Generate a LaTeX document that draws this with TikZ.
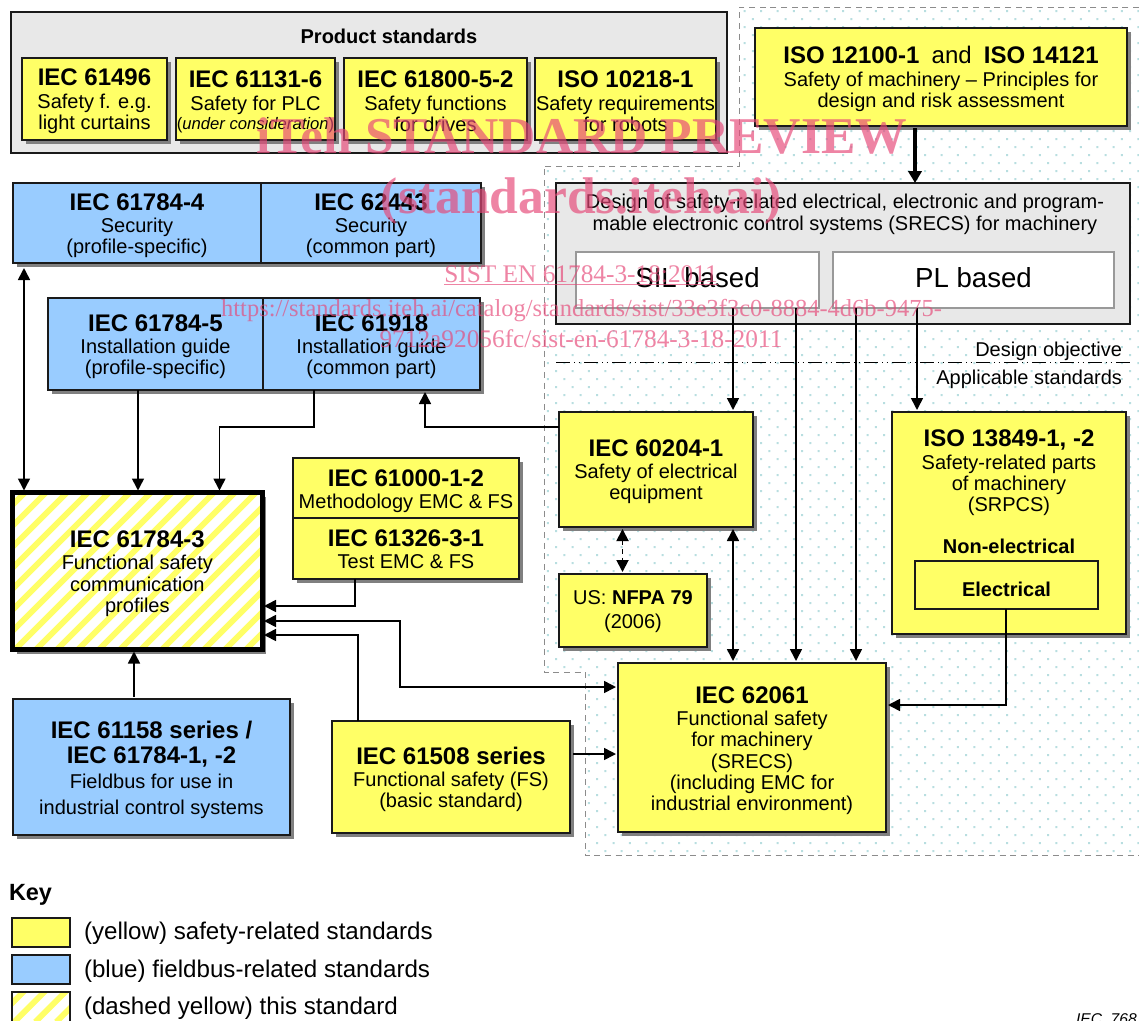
\documentclass[tikz,border=0pt]{standalone}
\usepackage{fontspec}
\setmainfont{Liberation Sans}
\newfontfamily\wmfont{Liberation Serif}
\usetikzlibrary{arrows.meta,shadows,calc}
\definecolor{boxyellow}{HTML}{FFFF66}
\definecolor{boxblue}{HTML}{99CCFF}
\definecolor{boxgrey}{HTML}{E8E8E8}
\definecolor{shgrey}{HTML}{808080}
\definecolor{linedark}{HTML}{1A1A1A}
\definecolor{dotcol}{HTML}{B8DEE0}
\definecolor{regioncol}{HTML}{8C8C8C}
\definecolor{wmcol}{HTML}{E64878}
\newcommand\BB[1]{{\fontsize{18}{16}\selectfont\bfseries #1}}
\newcommand\BS[1]{{\fontsize{15}{16}\selectfont\bfseries #1}}
\newcommand\gap{\\[0.7pt]}
% strut that lowers a centred text block by #1 px
\newcommand\sd[1]{\rule{0pt}{\dimexpr 13pt+#1pt*3/2\relax}}
\tikzset{
  base/.style={draw=linedark,line width=1.1pt,inner sep=0pt,outer sep=0pt,align=center,text=black,
     font=\fontsize{15}{16}\selectfont},
  shad/.style={drop shadow={shadow xshift=3pt,shadow yshift=-3pt,fill=shgrey,opacity=1}},
  yel/.style={base,shad,fill=boxyellow},
  blu/.style={base,shad,fill=boxblue},
  grey/.style={base,fill=boxgrey},
  plainbox/.style={base,fill=boxyellow},
  whitebox/.style={base,draw=black!40,fill=white},
  hatchpic/.style={path picture={
     \foreach \i in {-9,...,14}
       \draw[boxyellow,line width=4.4pt] ([shift={(2.3+21*\i,0)}]path picture bounding box.south west) -- ++(180,-180);}},
  hatch/.style={base,shad,fill=white,hatchpic,draw=black,line width=3.75pt},
  keyhatch/.style={base,fill=white,hatchpic},
  label/.style={inner sep=0pt,outer sep=0pt,text=black},
  arr/.style={draw=black,line width=1.2pt,-{Triangle[length=9pt,width=9pt]},shorten >=1.5pt},
  dbl/.style={draw=black,line width=1.2pt,{Triangle[length=9pt,width=9pt]}-{Triangle[length=9pt,width=9pt]},shorten >=1.5pt,shorten <=1.5pt},
  region/.style={draw=regioncol,line width=.7pt,dash pattern=on 4.5pt off 3.5pt},
  wm/.style={inner sep=0pt,outer sep=0pt,anchor=base,text=wmcol,text opacity=.67,font=\wmfont\fontsize{19}{20}\selectfont},
  wmbig/.style={wm,font=\wmfont\bfseries\fontsize{38.7}{40}\selectfont},
}
\newcommand\dbox[7][0]{%
  \pgfmathsetmacro\bw{(#5-#3)*0.75}\pgfmathsetmacro\bh{(#6-#4)*0.75}%
  \node[#2,minimum width=\bw pt,minimum height=\bh pt] (#1) at ({(#3+#5)/2},{(#4+#6)/2}) {#7};}
\begin{document}
\begin{tikzpicture}[x=0.75pt,y=-0.75pt]
\useasboundingbox (0,0) rectangle (1139,1021);
\clip (0,0) rectangle (1139,1021);
% dotted region
\begin{scope}
\clip (739,7) -- (1139,7) -- (1139,855) -- (585,855) -- (585,672) -- (544,672) -- (544,166) -- (739,166) -- cycle;
\fill[dotcol] \foreach \k in {0,...,53} \foreach \m in {0,...,37}
  { ({538.7+16.4*\m},{2+16*\k}) rectangle ++(2,2) };
\fill[dotcol] \foreach \k in {0,...,53} \foreach \m in {0,...,37}
  { ({530.5+16.4*\m},{10+16*\k}) rectangle ++(2,2) };
\end{scope}
\draw[region] (1139,7) -- (739,7) -- (739,166) -- (544,166) -- (544,672) -- (585,672) -- (585,855) -- (1139,855);

% product standards
\dbox[prod]{grey}{11}{12}{727}{153}{}
\node[label,font=\fontsize{15}{16}\selectfont\bfseries] (prodt) at (389,36) {Product standards};
\dbox[a61496]{yel}{22}{58}{167}{140}{\sd{2}\BB{IEC 61496}\gap Safety f. e.g.\\light curtains}
\dbox[a61131]{yel}{176}{58}{335}{140}{\sd{2.7}\BB{IEC 61131-6}\gap Safety for PLC\\[-1.5pt]{\fontsize{12.5}{14}\selectfont(\textit{under consideration})}}
\dbox[a61800]{yel}{344}{58}{527}{140}{\sd{2}\BB{IEC 61800-5-2}\gap Safety functions\\for drives}
\dbox[a10218]{yel}{535}{58}{716}{140}{\sd{2}\BB{ISO 10218-1}\gap Safety requirements\\for robots}

% ISO 12100 + design
\dbox[iso12100]{yel}{755}{28}{1127}{126}{\sd{2}\BB{ISO 12100-1}\,\, {\fontsize{18}{16}\selectfont and}\,\, \BB{ISO 14121}\gap Safety of machinery -- Principles for\\design and risk assessment}
\dbox[design]{grey}{556}{183}{1130}{324}{}
\node[label,align=center,font=\fontsize{15}{16.5}\selectfont] (designt) at (845,214) {Design of safety-related electrical, electronic and program-\\mable electronic control systems (SRECS) for machinery};
\dbox[sil]{whitebox}{576}{252}{819}{308}{\rule[-4.5pt]{0pt}{4.5pt}{\fontsize{20.7}{22}\selectfont SIL based}}
\dbox[pl]{whitebox}{833}{252}{1114}{308}{\rule[-4.5pt]{0pt}{4.5pt}{\fontsize{20.7}{22}\selectfont PL based}}

% dash-dot divider
\coordinate (divl) at (556,362);
\coordinate (divr) at (1130,362);
\draw[black,line width=.75pt,dash pattern=on 10.5pt off 3pt on 1.1pt off 2.3pt on 1.1pt off 3pt] (divl) -- (divr);
\node[label,anchor=east,font=\fontsize{15}{16}\selectfont] (dobj) at (1122,351) {Design objective};
\node[label,anchor=east,font=\fontsize{15}{16}\selectfont] (appl) at (1122,379) {Applicable standards};

% blue pairs
\dbox[sec1]{blu}{13}{183}{261}{263}{\sd{2.5}\BB{IEC 61784-4}\gap Security\\(profile-specific)}
\dbox[sec2]{blu}{261}{183}{481}{263}{\sd{2.5}\BB{IEC 62443}\gap Security\\(common part)}
\dbox[ins1]{blu}{48}{298}{263}{390}{\sd{2.5}\BB{IEC 61784-5}\gap Installation guide\\(profile-specific)}
\dbox[ins2]{blu}{263}{298}{480}{390}{\sd{2.5}\BB{IEC 61918}\gap Installation guide\\(common part)}

% main
\dbox[main]{hatch}{12.7}{492.5}{262}{649.5}{\sd{2.5}\BB{IEC 61784-3}\gap Functional safety\\communication\\profiles}
\dbox[emc1]{yel}{293}{458}{519}{518}{\sd{3}\BB{IEC 61000-1-2}\gap Methodology EMC \& FS}
\dbox[emc2]{yel}{293}{518}{519}{579}{\sd{0.5}\BB{IEC 61326-3-1}\gap Test EMC \& FS}
\dbox[fb]{blu}{13}{699}{290}{835}{\sd{2.5}\BB{IEC 61158 series /}\\[3pt]\BB{IEC 61784-1, -2}\\[3pt]Fieldbus for use in\\[3pt]industrial control systems}
\dbox[f61508]{yel}{332}{721}{570}{833}{\sd{2.5}\BB{IEC 61508 series}\gap Functional safety (FS)\\(basic standard)}
\dbox[e60204]{yel}{559}{412}{753}{527}{\sd{2}\BB{IEC 60204-1}\gap Safety of electrical\\equipment}
\dbox[nfpa]{yel}{559}{574}{707}{647}{\rule{0pt}{12.5pt}US: \textbf{NFPA 79}\\[2pt](2006)}
\dbox[iec62061]{yel}{618}{663}{886}{832}{\sd{3}\BB{IEC 62061}\gap Functional safety\\for machinery\\(SRECS)\\(including EMC for\\industrial environment)}
\dbox[iso13849]{yel}{892}{412}{1126}{634}{}
\node[label,align=center,font=\fontsize{15}{16}\selectfont] (iso13849t) at (1009,473) {\BB{ISO 13849-1, -2}\gap Safety-related parts\\of machinery\\(SRPCS)};
\node[label,font=\fontsize{15}{16}\selectfont\bfseries] (nonel) at (1009,546) {Non-electrical};
\dbox[elec]{plainbox}{915}{561}{1098}{609}{\rule{0pt}{17pt}\BS{Electrical}}

% connectors
\draw[line width=3pt,-{Triangle[length=9pt,width=10pt]}] (915,0 |- iso12100.south) ++(0,2) -- (915,0 |- design.north);
\draw[arr] (733,0 |- sil.south) -- (733,0 |- e60204.north);
\draw[arr] (917,0 |- pl.south) -- (917,0 |- iso13849.north);
\draw[arr] (796,0 |- sil.south) -- (796,0 |- iec62061.north);
\draw[arr] (856,0 |- pl.south) -- (856,0 |- iec62061.north);
\draw[dbl] (24,0 |- sec1.south) ++(0,3) -- (24,0 |- main.north);
\draw[arr] (138,0 |- ins1.south) -- (138,0 |- main.north);
\draw[arr] (314,0 |- ins2.south) -- (314,427) -- (219.5,427) -- (219.5,0 |- main.north);
\draw[arr] (e60204.west |- 0,427) -- (425,427) -- (425,0 |- ins2.south);
\draw[arr] (355,0 |- emc2.south) -- (355,606) -- (main.east |- 0,606);
\draw[dbl] (iec62061.west |- 0,687) -- (400,687) -- (400,621) -- (main.east |- 0,621);
\draw[arr] (358,0 |- f61508.north) -- (358,635) -- (main.east |- 0,635);
\draw[arr] (134,0 |- fb.north) ++(0,-2) -- (134,0 |- main.south);
\draw[arr] (f61508.east |- 0,754) ++(3,0) -- (iec62061.west |- 0,754);
\draw[dbl,line width=1.4pt,dash pattern=on 3.5pt off 3pt] (622.5,0 |- e60204.south) -- (622.5,0 |- nfpa.north);
\draw[dbl] (733,0 |- e60204.south) -- (733,0 |- iec62061.north);
\draw[arr] (1006,0 |- elec.south) -- (1006,705) -- (iec62061.east |- 0,705);

% key
\node[label,anchor=base west,font=\fontsize{17.6}{18}\selectfont\bfseries] (keyt) at (9,900) {Key};
\dbox[k1]{plainbox}{12}{918}{70}{947}{}
\dbox[k2]{base,fill=boxblue}{12}{955}{70}{984}{}
\dbox[k3]{keyhatch}{12}{992}{70}{1022}{}
\node[label,anchor=base west,font=\fontsize{18.1}{18}\selectfont] (k1t) at (84,939) {(yellow) safety-related standards};
\node[label,anchor=base west,font=\fontsize{18.1}{18}\selectfont] (k2t) at (84,977) {(blue) fieldbus-related standards};
\node[label,anchor=base west,font=\fontsize{18.1}{18}\selectfont] (k3t) at (84,1014) {(dashed yellow) this standard};
\node[label,anchor=base west,font=\fontsize{11.7}{12}\selectfont\itshape] (ref) at (1076,1024) {IEC\ \ 768};

% watermark
\node[wmbig] (w1) at (582,153) {iTeh STANDARD PREVIEW};
\node[wmbig] (w2) at (581.5,213) {(standards.iteh.ai)};
\node[wm] (w3) at (581,282) {\underline{SIST EN 61784-3-18:2011}};
\node[wm,font=\wmfont\fontsize{18.36}{20}\selectfont] (w4) at (581.5,316) {https://standards.iteh.ai/catalog/standards/sist/33e3f3c0-8884-4d6b-9475-};
\node[wm] (w5) at (581,347) {9712a92056fc/sist-en-61784-3-18-2011};
\end{tikzpicture}
\end{document}
